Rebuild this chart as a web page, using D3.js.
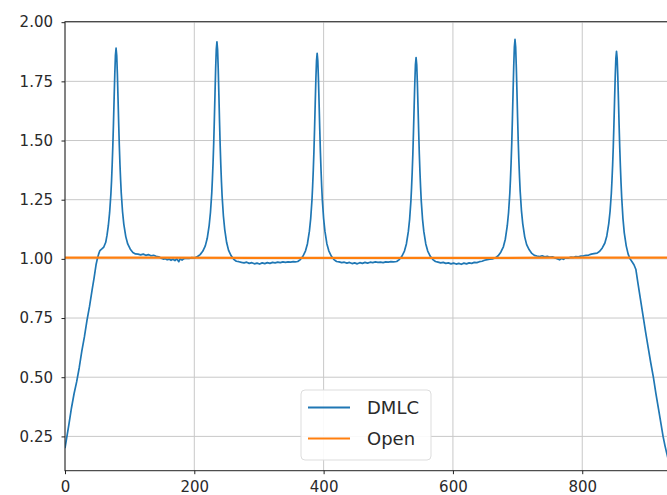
<!DOCTYPE html>
<html><head><meta charset="utf-8">
<script src="https://cdn.jsdelivr.net/npm/d3@7"></script>
<style>
body{margin:0;background:#fff}
svg{display:block}
text{font-family:"DejaVu Sans",sans-serif}
</style></head>
<body><svg id="c" width="667" height="495"></svg>
<script>
// ---- DATA (position, relative dose) ----
const dmlcRampIn = [[0,0.20],[3,0.25],[6,0.30],[10,0.37],[14,0.43],[18,0.48],[22,0.54],[26,0.61],[30,0.67],[34,0.74],[38,0.80],[42,0.87],[45,0.92],[48,0.975],[50,1.0],[52,1.02],[54,1.035],[57,1.042],[60,1.05],[63,1.07],[65,1.10],[67,1.14],[69,1.195],[71,1.275],[72,1.33],[73,1.40],[74,1.48],[75,1.575],[76,1.68],[77,1.78],[78,1.86]];
const dmlcPeak1 = [[79,1.89],[80,1.859],[81,1.781],[82,1.68],[83,1.575],[84,1.479],[85,1.40],[86,1.334],[87,1.278],[89,1.199],[91,1.146],[94,1.094],[97,1.063],[101,1.041],[105,1.027],[109,1.021]];
const dmlcGap1 = [[113,1.02],[117,1.017],[121,1.02],[125,1.015],[129,1.018],[133,1.013],[137,1.015],[141,1.011],[145,1.009],[149,1.003],[152,0.999],[155,1.001],[158,0.996],[161,0.999],[164,0.994],[167,0.998],[170,0.993],[173,1.0],[176,0.988],[178,1.0],[181,0.995],[184,1.001],[188,1.003],[192,1.002],[196,1.005],[200,1.004]];
const dmlcPeak2 = [[205,1.01],[209,1.018],[213,1.032],[217,1.055],[220,1.087],[223,1.142],[225,1.197],[227,1.279],[228,1.338],[229,1.406],[230,1.488],[231,1.589],[232,1.698],[233,1.803],[234,1.885],[235,1.917],[236,1.884],[237,1.801],[238,1.693],[239,1.581],[240,1.479],[241,1.395],[242,1.325],[243,1.265],[245,1.181],[247,1.125],[250,1.069],[253,1.036],[257,1.013],[261,0.998],[265,0.99]];
const dmlcGap2 = [[269,0.988],[273,0.985],[277,0.983],[281,0.986],[285,0.981],[289,0.984],[293,0.979],[297,0.982],[301,0.978],[305,0.983],[309,0.98],[313,0.984],[317,0.981],[321,0.985],[325,0.983],[329,0.986],[333,0.984],[337,0.987],[341,0.985],[345,0.987],[349,0.986],[353,0.988],[356,0.987]];
const dmlcPeak3 = [[360,0.989],[364,0.997],[368,1.011],[372,1.034],[375,1.064],[378,1.117],[380,1.17],[382,1.25],[383,1.307],[384,1.374],[385,1.453],[386,1.55],[387,1.656],[388,1.758],[389,1.837],[390,1.868],[391,1.837],[392,1.758],[393,1.656],[394,1.55],[395,1.453],[396,1.374],[397,1.307],[398,1.25],[400,1.17],[402,1.117],[405,1.064],[408,1.034],[412,1.011],[416,0.997],[420,0.989]];
const dmlcGap3 = [[424,0.987],[428,0.984],[432,0.986],[436,0.982],[440,0.985],[444,0.98],[448,0.983],[452,0.979],[456,0.984],[460,0.981],[464,0.985],[468,0.982],[472,0.986],[476,0.984],[480,0.987],[484,0.985],[488,0.986],[492,0.984],[496,0.987],[500,0.986],[504,0.988],[508,0.987]];
const dmlcPeak4 = [[513,0.989],[517,0.997],[521,1.011],[525,1.033],[528,1.063],[531,1.115],[533,1.167],[535,1.245],[536,1.301],[537,1.366],[538,1.443],[539,1.539],[540,1.642],[541,1.742],[542,1.82],[543,1.85],[544,1.82],[545,1.742],[546,1.642],[547,1.539],[548,1.443],[549,1.366],[550,1.301],[551,1.245],[553,1.167],[555,1.115],[558,1.063],[561,1.033],[565,1.011],[569,0.997],[573,0.989]];
const dmlcGap4 = [[577,0.986],[581,0.983],[585,0.985],[589,0.981],[593,0.983],[597,0.979],[601,0.982],[605,0.978],[609,0.981],[613,0.977],[617,0.982],[621,0.979],[625,0.983],[629,0.981],[633,0.985],[637,0.984],[641,0.988],[645,0.99],[649,0.994],[653,0.997],[657,0.999],[661,1.0]];
const dmlcPeak5 = [[666,1.005],[670,1.013],[674,1.028],[678,1.051],[681,1.083],[684,1.139],[686,1.195],[688,1.278],[689,1.338],[690,1.408],[691,1.491],[692,1.593],[693,1.705],[694,1.811],[695,1.895],[696,1.927],[697,1.895],[698,1.812],[699,1.707],[700,1.597],[701,1.496],[702,1.413],[703,1.345],[704,1.285],[706,1.203],[708,1.148],[711,1.093],[714,1.06],[718,1.038],[722,1.023],[726,1.015]];
const dmlcGap5 = [[730,1.012],[734,1.01],[738,1.013],[742,1.009],[746,1.011],[750,1.007],[754,1.009],[758,1.004],[762,1.0],[765,0.996],[768,1.002],[771,0.998],[774,1.004],[778,1.003],[782,1.007],[786,1.006],[790,1.01],[794,1.009],[798,1.012],[802,1.013],[806,1.015],[810,1.016],[814,1.02],[818,1.022]];
const dmlcPeak6 = [[823,1.024],[827,1.032],[831,1.046],[835,1.067],[838,1.097],[841,1.149],[843,1.2],[845,1.277],[846,1.333],[847,1.397],[848,1.474],[849,1.568],[850,1.671],[851,1.77],[852,1.847],[853,1.877],[854,1.847],[855,1.77],[856,1.67],[857,1.565],[858,1.47],[859,1.39],[860,1.32],[861,1.26],[863,1.17],[865,1.11],[868,1.055],[871,1.02]];
const dmlcRampOut = [[874,1.0],[877,0.988],[880,0.975],[883,0.955],[886,0.90],[890,0.83],[894,0.76],[898,0.69],[902,0.625],[906,0.56],[910,0.50],[914,0.43],[918,0.365],[922,0.30],[925,0.25],[928,0.21],[931,0.175],[934,0.14]];
const openField = [[0,1.005],[150,1.005],[300,1.004],[450,1.004],[600,1.004],[750,1.005],[934,1.005]];

const xTicks = [0,200,400,600,800];
const yTicks = [0.25,0.50,0.75,1.00,1.25,1.50,1.75,2.00];
const seriesNames = ["DMLC","Open"];
const seriesColors = ["#1f77b4","#ff7f0e"];

const dmlc = [].concat(dmlcRampIn,dmlcPeak1,dmlcGap1,dmlcPeak2,dmlcGap2,dmlcPeak3,dmlcGap3,dmlcPeak4,dmlcGap4,dmlcPeak5,dmlcGap5,dmlcPeak6,dmlcRampOut);

// ---- LAYOUT ----
const L=65, R=676, T=21.7, B=470.7;
const x = d3.scaleLinear().domain([0,945]).range([L,R]);
const y = d3.scaleLinear().domain([0.105,2.002]).range([B,T]);
const svg = d3.select("#c");

svg.append("defs").append("clipPath").attr("id","clip")
  .append("rect").attr("x",L).attr("y",T).attr("width",R-L).attr("height",B-T);

// grid
const grid = svg.append("g").attr("stroke","#c8c8c8").attr("stroke-width",1);
grid.selectAll(".gx").data(xTicks).enter().append("line")
  .attr("x1",d=>x(d)).attr("x2",d=>x(d)).attr("y1",T).attr("y2",B);
grid.selectAll(".gy").data(yTicks).enter().append("line")
  .attr("x1",L).attr("x2",R).attr("y1",d=>y(d)).attr("y2",d=>y(d));

// lines
const line = d3.line().x(d=>x(d[0])).y(d=>y(d[1]));
const plot = svg.append("g").attr("clip-path","url(#clip)");
plot.append("path").datum(dmlc).attr("d",line)
  .attr("fill","none").attr("stroke",seriesColors[0]).attr("stroke-width",1.7).attr("stroke-linejoin","round");
plot.append("path").datum(openField).attr("d",line)
  .attr("fill","none").attr("stroke",seriesColors[1]).attr("stroke-width",2.2);

// axes
const xa = svg.append("g").attr("transform",`translate(0,${B})`)
  .call(d3.axisBottom(x).tickValues(xTicks).tickFormat(d3.format("d")).tickSize(3.5).tickSizeOuter(0).tickPadding(7.5));
const ya = svg.append("g").attr("transform",`translate(${L},0)`)
  .call(d3.axisLeft(y).tickValues(yTicks).tickFormat(d3.format(".2f")).tickSize(3.5).tickSizeOuter(0).tickPadding(8.5));
[xa,ya].forEach(a=>{
  a.selectAll("path.domain").remove();
  a.selectAll(".tick line").attr("stroke","#222").attr("stroke-width",1);
  a.selectAll(".tick text").attr("fill","#2a2a2a").style("font-size","15px").style("font-family","DejaVu Sans, sans-serif");
});

// spines
svg.append("rect").attr("x",L).attr("y",T).attr("width",R-L).attr("height",B-T)
  .attr("fill","none").attr("stroke","#222").attr("stroke-width",1);

// legend
const lg = svg.append("g");
lg.append("rect").attr("x",301).attr("y",390).attr("width",130).attr("height",70).attr("rx",4)
  .attr("fill","#fff").attr("fill-opacity",0.9).attr("stroke","#dddddd").attr("stroke-width",1);
const legY = [407.5,438.5];
seriesNames.forEach((n,i)=>{
  lg.append("line").attr("x1",308).attr("x2",350).attr("y1",legY[i]).attr("y2",legY[i])
    .attr("stroke",seriesColors[i]).attr("stroke-width",2);
  lg.append("text").attr("x",367).attr("y",legY[i]).attr("dy","0.36em")
    .attr("fill","#2a2a2a").style("font-size","18px").text(n);
});
</script>
</body></html>
